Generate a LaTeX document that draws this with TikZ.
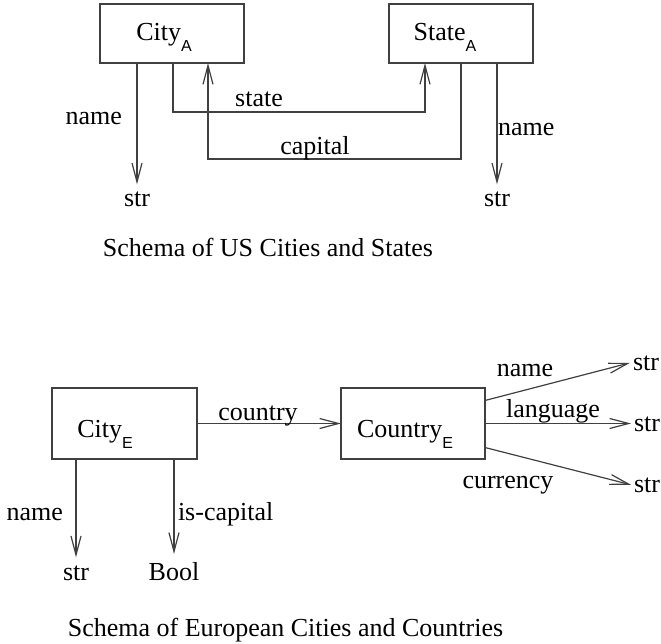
\documentclass[tikz,border=0pt]{standalone}
\usepackage{fontspec}
\setmainfont{Liberation Serif}
\newfontfamily\subfont{Liberation Sans}
\usetikzlibrary{arrows.meta}
\newcommand\sbx[1]{\raisebox{-11pt}{\subfont\fontsize{16}{16}\selectfont #1}}
\begin{document}
\begin{tikzpicture}[x=1pt,y=-1pt,
  every node/.style={font=\fontsize{26}{30}\selectfont, inner sep=0pt, outer sep=0pt},
  box/.style={draw=black!75, line width=1.2pt, minimum width=144pt, minimum height=59pt},
  conn/.style={draw=black!75, line width=1.2pt},
  arr/.style={conn, -{Straight Barb[length=19pt,width=10pt]}},
  typ/.style={anchor=base, outer xsep=4pt, outer ysep=8pt},
  rtyp/.style={anchor=base west, outer xsep=3pt},
  lbl/.style={anchor=base}]
\useasboundingbox (0,0) rectangle (661,644);

% ---------- US schema ----------
\node[box] (cityA) at (172,33.5) {};
\node[box] (stateA) at (461,33.5) {};
\node[lbl] (cityAt) at (164,41) {City\sbx{A}};
\node[lbl] (stateAt) at (445,41) {State\sbx{A}};

\node[typ] (strA1) at (137,207) {str};
\node[typ] (strA2) at (497,207) {str};
\draw[arr] (cityA.south -| strA1) -- (strA1.north);
\draw[arr] (stateA.south -| strA2) -- (strA2.north);
\node[lbl, anchor=base east] (nameA1) at (122,125) {name};
\node[lbl, anchor=base west] (nameA2) at (498,136) {name};

\draw[arr] ([xshift=1pt]cityA.south) -- ++(0,49) -| ([xshift=-36pt]stateA.south);
\draw[arr] (stateA.south) -- ++(0,96) -| ([xshift=36pt]cityA.south);
\node[lbl] (stateL) at (259,107) {state};
\node[lbl] (capitalL) at (315,155) {capital};

\node[lbl] (capUS) at (268,257) {Schema of US Cities and States};

% ---------- European schema ----------
\node[box, minimum width=145pt, minimum height=71pt] (cityE) at (124.5,423.5) {};
\node[box, minimum height=71pt] (countryE) at (413,423.5) {};
\node[lbl] (cityEt) at (105,437) {City\sbx{E}};
\node[lbl] (countryEt) at (405,437) {Country\sbx{E}};

\draw[arr] (cityE.east) -- (countryE.west);
\node[lbl] (countryL) at (258,420) {country};

\node[typ] (strE1) at (76,580) {str};
\node[typ] (boolE) at (174,580) {Bool};
\draw[arr] (cityE.south -| strE1) -- (strE1.north);
\draw[arr] (cityE.south -| boolE) -- (boolE.north);
\node[lbl, anchor=base east] (nameE1) at (63,520) {name};
\node[lbl, anchor=base west] (iscapL) at (178,520) {is-capital};

\node[rtyp] (strC1) at (630,370) {str};
\node[rtyp] (strC2) at (631,431) {str};
\node[rtyp] (strC3) at (631,492) {str};
\draw[arr] ([yshift=23pt]countryE.east) -- (strC1.west);
\draw[arr] (countryE.east) -- (strC2.west |- countryE.east);
\draw[arr] ([yshift=-24pt]countryE.east) -- (strC3.west);
\node[lbl] (nameC) at (525,376) {name};
\node[lbl] (langC) at (553,417) {language};
\node[lbl] (currC) at (508,488) {currency};

\node[lbl] (capEU) at (285.5,636) {Schema of European Cities and Countries};
\end{tikzpicture}
\end{document}
